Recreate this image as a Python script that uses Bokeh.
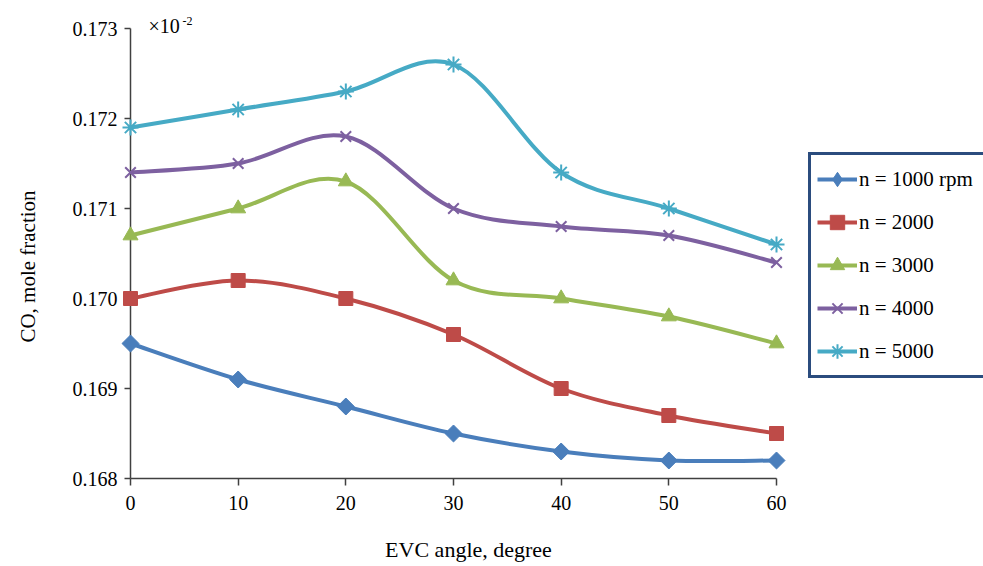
import math
from bokeh.plotting import figure
from bokeh.models import Range1d, FixedTicker, PrintfTickFormatter, Legend, LegendItem, Label
from bokeh.embed import file_html
from bokeh.resources import INLINE

angles = [0, 10, 20, 30, 40, 50, 60]
co_1000 = [0.1695, 0.1691, 0.1688, 0.1685, 0.1683, 0.1682, 0.1682]
co_2000 = [0.1700, 0.1702, 0.1700, 0.1696, 0.1690, 0.1687, 0.1685]
co_3000 = [0.1707, 0.1710, 0.1713, 0.1702, 0.1700, 0.1698, 0.1695]
co_4000 = [0.1714, 0.1715, 0.1718, 0.1710, 0.1708, 0.1707, 0.1704]
co_5000 = [0.1719, 0.1721, 0.1723, 0.1726, 0.1714, 0.1710, 0.1706]
series_labels = ["n = 1000 rpm", "n = 2000", "n = 3000", "n = 4000", "n = 5000"]
x_ticks = [0, 10, 20, 30, 40, 50, 60]
y_ticks = [0.168, 0.169, 0.170, 0.171, 0.172, 0.173]

FONT = "Liberation Serif"
NAN = float("nan")

# page layout in pixels: where the axes sit inside the canvas
W, H = 983, 566
AX_LEFT, AX_RIGHT, AX_TOP, AX_BOTTOM = 130, 776, 28, 478
X0, X1 = x_ticks[0], x_ticks[-1]
Y0, Y1 = y_ticks[0], y_ticks[-1]
kx = (X1 - X0) / (AX_RIGHT - AX_LEFT)
ky = (Y1 - Y0) / (AX_BOTTOM - AX_TOP)

p = figure(width=W, height=H, output_backend="svg", toolbar_location=None,
           x_range=Range1d(X0 - AX_LEFT * kx, X1 + (W - AX_RIGHT) * kx),
           y_range=Range1d(Y0 - (H - AX_BOTTOM) * ky, Y1 + AX_TOP * ky),
           min_border_left=0, min_border_right=0, min_border_top=0, min_border_bottom=0)
p.outline_line_color = None
p.xgrid.visible = False
p.ygrid.visible = False
p.background_fill_color = "white"

for ax in (p.xaxis[0], p.yaxis[0]):
    ax.axis_line_color = "#404040"
    ax.axis_line_width = 1.5
    ax.major_tick_line_color = "#404040"
    ax.major_tick_line_width = 1.5
    ax.minor_tick_line_color = None
    ax.major_tick_in = 0
    ax.major_label_text_font = FONT
    ax.major_label_text_font_size = "20px"
    ax.major_label_text_color = "black"

p.xaxis.fixed_location = Y0
p.xaxis.bounds = (X0, X1)
p.xaxis.ticker = FixedTicker(ticks=x_ticks)
p.xaxis.major_tick_out = 7
p.xaxis.major_label_standoff = 10

p.yaxis.fixed_location = X0
p.yaxis.bounds = (Y0, Y1)
p.yaxis.ticker = FixedTicker(ticks=y_ticks)
p.yaxis.formatter = PrintfTickFormatter(format="%.3f")
p.yaxis.major_tick_out = 6
p.yaxis.major_label_standoff = 7

# axis titles and the scale note, as text annotations
p.add_layout(Label(x=468, y=H - 549, x_units="screen", y_units="screen",
                   text="EVC angle, degree", text_font=FONT, text_font_size="22px",
                   text_align="center", text_baseline="middle", text_color="black"))
p.add_layout(Label(x=27, y=H - 266, x_units="screen", y_units="screen", angle=math.pi / 2,
                   text="CO, mole fraction", text_font=FONT, text_font_size="21px",
                   text_align="center", text_baseline="middle", text_color="black"))
p.add_layout(Label(x=148, y=H - 36, x_units="screen", y_units="screen", text="×10",
                   text_font=FONT, text_font_size="20px", text_color="black"))
p.add_layout(Label(x=182, y=H - 24, x_units="screen", y_units="screen", text="-2",
                   text_font=FONT, text_font_size="12px", text_color="black"))


def smooth(xs, ys):
    n = len(xs)
    out = dict(x0=[], y0=[], x1=[], y1=[], cx0=[], cy0=[], cx1=[], cy1=[])
    for i in range(n - 1):
        ip = max(i - 1, 0)
        inn = min(i + 2, n - 1)
        out["x0"].append(xs[i]); out["y0"].append(ys[i])
        out["x1"].append(xs[i + 1]); out["y1"].append(ys[i + 1])
        out["cx0"].append(xs[i] + (xs[i + 1] - xs[ip]) / 6)
        out["cy0"].append(ys[i] + (ys[i + 1] - ys[ip]) / 6)
        out["cx1"].append(xs[i + 1] - (xs[inn] - xs[i]) / 6)
        out["cy1"].append(ys[i + 1] - (ys[inn] - ys[i]) / 6)
    return out


series = [
    (co_1000, "#4a7ebb", "square", 12, math.pi / 4, "diamond"),
    (co_2000, "#be4b48", "square", 14, 0.0, "square"),
    (co_3000, "#98b954", "triangle", 15, 0.0, "triangle"),
    (co_4000, "#7d60a0", "x", 15, 0.0, "x"),
    (co_5000, "#46aac5", "asterisk", 16, 0.0, "asterisk"),
]

items = []
for (vals, color, marker, size, ang, leg_marker), lab in zip(series, series_labels):
    seg = smooth(angles, vals)
    p.bezier(line_color=color, line_width=4, **seg)
    lw = 2 if marker in ("x", "asterisk") else 1
    p.scatter(angles, vals, marker=marker, size=size, angle=ang, line_color=color,
              line_width=lw, fill_color=color, level="overlay")
    # legend sample glyphs (no data points of their own)
    lr = p.line(x=[NAN], y=[NAN], line_color=color, line_width=4)
    mr = p.scatter(x=[NAN], y=[NAN], marker=leg_marker, size=size, line_color=color,
                   line_width=lw, fill_color=color)
    items.append(LegendItem(label=lab, renderers=[lr, mr]))

legend = Legend(items=items, location=(808, H - 378), glyph_width=40, glyph_height=36,
                label_height=36, label_width=135, spacing=7, padding=6, margin=0,
                label_standoff=2,
                label_text_font=FONT, label_text_font_size="21px", label_text_color="black",
                border_line_color="#2b4c7e", border_line_width=3, border_line_alpha=1.0,
                background_fill_color="white", background_fill_alpha=1.0)
p.add_layout(legend)

open("out.html", "w").write(file_html(p, INLINE))
